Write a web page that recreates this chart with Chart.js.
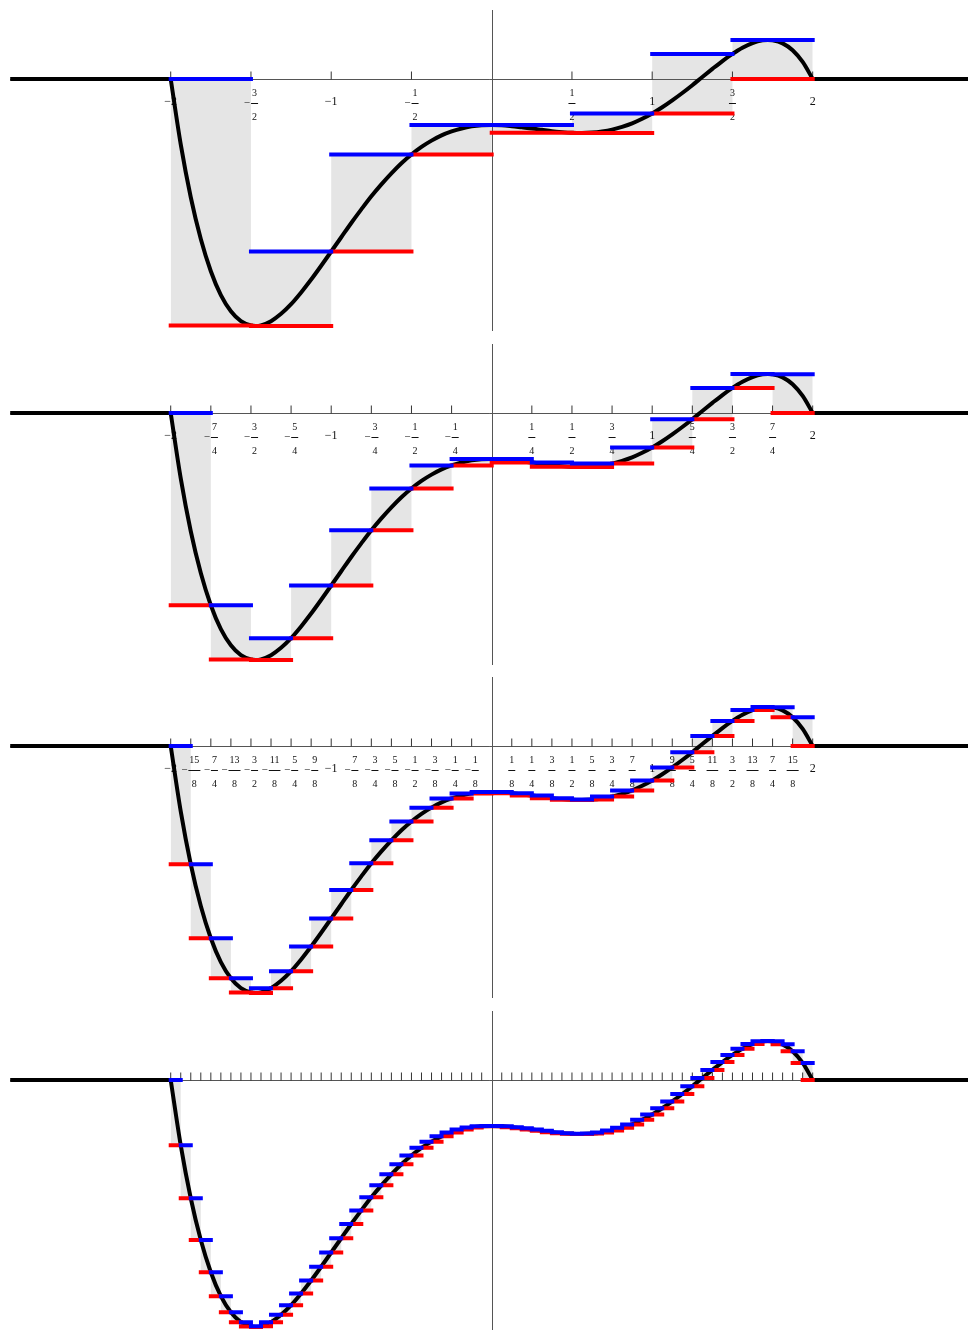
<!DOCTYPE html>
<html lang="en">
<head>
<meta charset="UTF-8" />
<title>Upper and lower sums</title>
<script src="https://cdn.jsdelivr.net/npm/chart.js"></script>
<style>
  html, body { margin: 0; padding: 0; background: #fff; overflow: hidden; }
  .panel { position: relative; width: 968px; }
</style>
</head>
<body>
<div class="panel" style="height:334px"><canvas id="p0"></canvas></div>
<div class="panel" style="height:333px"><canvas id="p1"></canvas></div>
<div class="panel" style="height:334px"><canvas id="p2"></canvas></div>
<div class="panel" style="height:334px"><canvas id="p3"></canvas></div>
<script>
  // curve samples (zero outside [-2, 2])
  const curveX = [
    -2, -1.9375, -1.875, -1.8125, -1.75, -1.6875, -1.625, -1.5625, -1.5, -1.47,
    -1.4375, -1.375, -1.3125, -1.25, -1.1875, -1.125, -1.0625, -1,
    -0.9375, -0.875, -0.8125, -0.75, -0.6875, -0.625, -0.5625, -0.5,
    -0.4375, -0.375, -0.3125, -0.25, -0.1875, -0.125, -0.0625, 0,
    0.0625, 0.125, 0.1875, 0.25, 0.3125, 0.375, 0.4375, 0.5,
    0.5625, 0.625, 0.6875, 0.75, 0.8125, 0.875, 0.9375, 1,
    1.0625, 1.125, 1.1875, 1.25, 1.3125, 1.375, 1.4375, 1.5,
    1.5625, 1.625, 1.6875, 1.72, 1.75, 1.8125, 1.875, 1.9375, 2
  ];
  const curveY = [
    0, -2.84, -5.14, -6.96, -8.36, -9.40, -10.10, -10.53, -10.72, -10.74,
    -10.71, -10.53, -10.21, -9.79, -9.28, -8.72, -8.12, -7.50,
    -6.88, -6.26, -5.67, -5.10, -4.58, -4.10, -3.66, -3.28,
    -2.95, -2.68, -2.45, -2.28, -2.15, -2.06, -2.01, -2.00,
    -2.01, -2.05, -2.10, -2.15, -2.21, -2.27, -2.31, -2.34,
    -2.35, -2.33, -2.28, -2.20, -2.08, -1.93, -1.73, -1.50,
    -1.23, -0.93, -0.61, -0.27, 0.09, 0.44, 0.78, 1.09,
    1.36, 1.56, 1.68, 1.70, 1.68, 1.55, 1.25, 0.74, 0
  ];

  // subintervals per panel and tick spacing
  const partitions = [8, 16, 32, 64];
  const tickSteps = [0.5, 0.25, 0.125, 0.0625];

  // tick labels per panel
  const labels8 = ['-2', '-3/2', '-1', '-1/2', '1/2', '1', '3/2', '2'];
  const labels16 = ['-2', '-7/4', '-3/2', '-5/4', '-1', '-3/4', '-1/2', '-1/4',
    '1/4', '1/2', '3/4', '1', '5/4', '3/2', '7/4', '2'];
  const labels32 = ['-2', '-15/8', '-7/4', '-13/8', '-3/2', '-11/8', '-5/4', '-9/8',
    '-1', '-7/8', '-3/4', '-5/8', '-1/2', '-3/8', '-1/4', '-1/8',
    '1/8', '1/4', '3/8', '1/2', '5/8', '3/4', '7/8', '1',
    '9/8', '5/4', '11/8', '3/2', '13/8', '7/4', '15/8', '2'];
  const tickLabels = [labels8, labels16, labels32, []];

  const FONT = '"Liberation Serif", "DejaVu Serif", serif';
  const X_START = -3;

  function labelValue(s) {
    const neg = s[0] === '-';
    const body = neg ? s.slice(1) : s;
    const [n, d] = body.split('/');
    const v = Number(n) / (d ? Number(d) : 1);
    return neg ? -v : v;
  }

  // sup / inf of the sampled curve on each subinterval
  function sums(n) {
    const w = 4 / n, up = [], lo = [];
    for (let i = 0; i < n; i++) {
      const a = -2 + i * w, b = a + w;
      let mx = -Infinity, mn = Infinity;
      curveX.forEach((x, j) => {
        if (x >= a - 1e-9 && x <= b + 1e-9) {
          mx = Math.max(mx, curveY[j]);
          mn = Math.min(mn, curveY[j]);
        }
      });
      up.push({ a, b, y: mx });
      lo.push({ a, b, y: mn });
    }
    return { up, lo };
  }

  function stepData(list) {
    const pts = list.map(s => ({ x: s.a, y: s.y }));
    const last = list[list.length - 1];
    pts.push({ x: last.b, y: last.y });
    return pts;
  }

  function barData(list) {
    return list.flatMap(s => [{ x: s.a, y: s.y }, { x: s.b, y: s.y }, { x: s.b, y: null }]);
  }

  function drawLabel(ctx, text, px, y0) {
    const neg = text[0] === '-';
    const body = neg ? text.slice(1) : text;
    ctx.fillStyle = '#111';
    ctx.textBaseline = 'middle';
    ctx.textAlign = 'center';
    if (body.includes('/')) {
      const [num, den] = body.split('/');
      ctx.font = '10px ' + FONT;
      const barW = Math.max(ctx.measureText(num).width, ctx.measureText(den).width) + 2;
      ctx.font = '11px ' + FONT;
      const mw = neg ? ctx.measureText('\u2212').width + 1 : 0;
      const left = px - (mw + barW) / 2;
      if (neg) ctx.fillText('\u2212', left + (mw - 1) / 2, y0 + 24.5);
      const fx = left + mw;
      ctx.fillRect(fx, Math.round(y0 + 24), barW, 1);
      ctx.font = '10px ' + FONT;
      ctx.fillText(num, fx + barW / 2, y0 + 14.5);
      ctx.fillText(den, fx + barW / 2, y0 + 38);
    } else {
      ctx.font = '12px ' + FONT;
      ctx.fillText((neg ? '\u2212' : '') + body, px, y0 + 22.5);
    }
  }

  // axes, ticks and labels, drawn just under the curve
  const mathAxes = {
    id: 'mathAxes',
    beforeDatasetDraw(chart, args, opts) {
      if (chart.data.datasets[args.index].label !== 'curve') return;
      const { ctx, chartArea } = chart;
      const { x, y } = chart.scales;
      const yPx = y.getPixelForValue(0);
      const yLine = Math.round(yPx) + 0.5;
      const xLine = Math.round(x.getPixelForValue(0)) + 0.5;
      ctx.save();
      ctx.strokeStyle = '#555';
      ctx.lineWidth = 1;
      ctx.beginPath();
      ctx.moveTo(x.getPixelForValue(X_START), yLine);
      ctx.lineTo(chartArea.right, yLine);
      ctx.moveTo(xLine, chartArea.top);
      ctx.lineTo(xLine, chartArea.bottom);
      ctx.stroke();

      ctx.strokeStyle = '#333';
      ctx.beginPath();
      const k = Math.round(2 / opts.step);
      for (let i = -k; i <= k; i++) {
        if (i === 0) continue;
        const px = x.getPixelForValue(i * opts.step);
        ctx.moveTo(px, yLine - 8);
        ctx.lineTo(px, yLine);
      }
      ctx.stroke();

      opts.labels.forEach(t => drawLabel(ctx, t, x.getPixelForValue(labelValue(t)), yPx));
      ctx.restore();
    }
  };

  partitions.forEach((n, p) => {
    const { up, lo } = sums(n);
    const curve = curveX.map((x, i) => ({ x, y: curveY[i] }));
    new Chart(document.getElementById('p' + p), {
      type: 'line',
      data: {
        datasets: [
          {
            label: 'upper', data: barData(up), borderColor: '#0000ff', borderWidth: 4,
            borderCapStyle: 'square', pointRadius: 0, fill: false, spanGaps: false, order: 0
          },
          {
            label: 'lower', data: barData(lo), borderColor: '#ff0000', borderWidth: 4,
            borderCapStyle: 'square', pointRadius: 0, fill: false, spanGaps: false, order: 1
          },
          {
            label: 'zero', data: [{ x: X_START, y: 0 }, { x: -2, y: 0 }, { x: 0, y: null }, { x: 2, y: 0 }, { x: 3.2, y: 0 }],
            borderColor: '#000', borderWidth: 4, pointRadius: 0, fill: false, spanGaps: false, order: 2
          },
          {
            label: 'curve', data: curve, borderColor: '#000', borderWidth: 4,
            cubicInterpolationMode: 'monotone', borderJoinStyle: 'round', pointRadius: 0, fill: false, order: 3
          },
          {
            label: 'upperFill', data: stepData(up), stepped: true, borderColor: 'transparent', borderWidth: 0,
            pointRadius: 0, backgroundColor: '#e5e5e5', fill: { target: 5 }, order: 4
          },
          {
            label: 'lowerFill', data: stepData(lo), stepped: true, borderColor: 'transparent', borderWidth: 0,
            pointRadius: 0, fill: false, order: 5
          }
        ]
      },
      options: {
        responsive: true,
        maintainAspectRatio: false,
        animation: false,
        events: [],
        layout: { padding: { top: 10, bottom: p === 1 ? 2 : 3, left: 0, right: 0 } },
        scales: {
          x: { type: 'linear', min: -3.0636, max: 2.9676, display: false },
          y: { type: 'linear', min: -10.957, max: 3.0, display: false }
        },
        plugins: {
          legend: { display: false },
          tooltip: { enabled: false },
          mathAxes: { step: tickSteps[p], labels: tickLabels[p] }
        }
      },
      plugins: [mathAxes]
    });
  });
</script>
</body>
</html>
